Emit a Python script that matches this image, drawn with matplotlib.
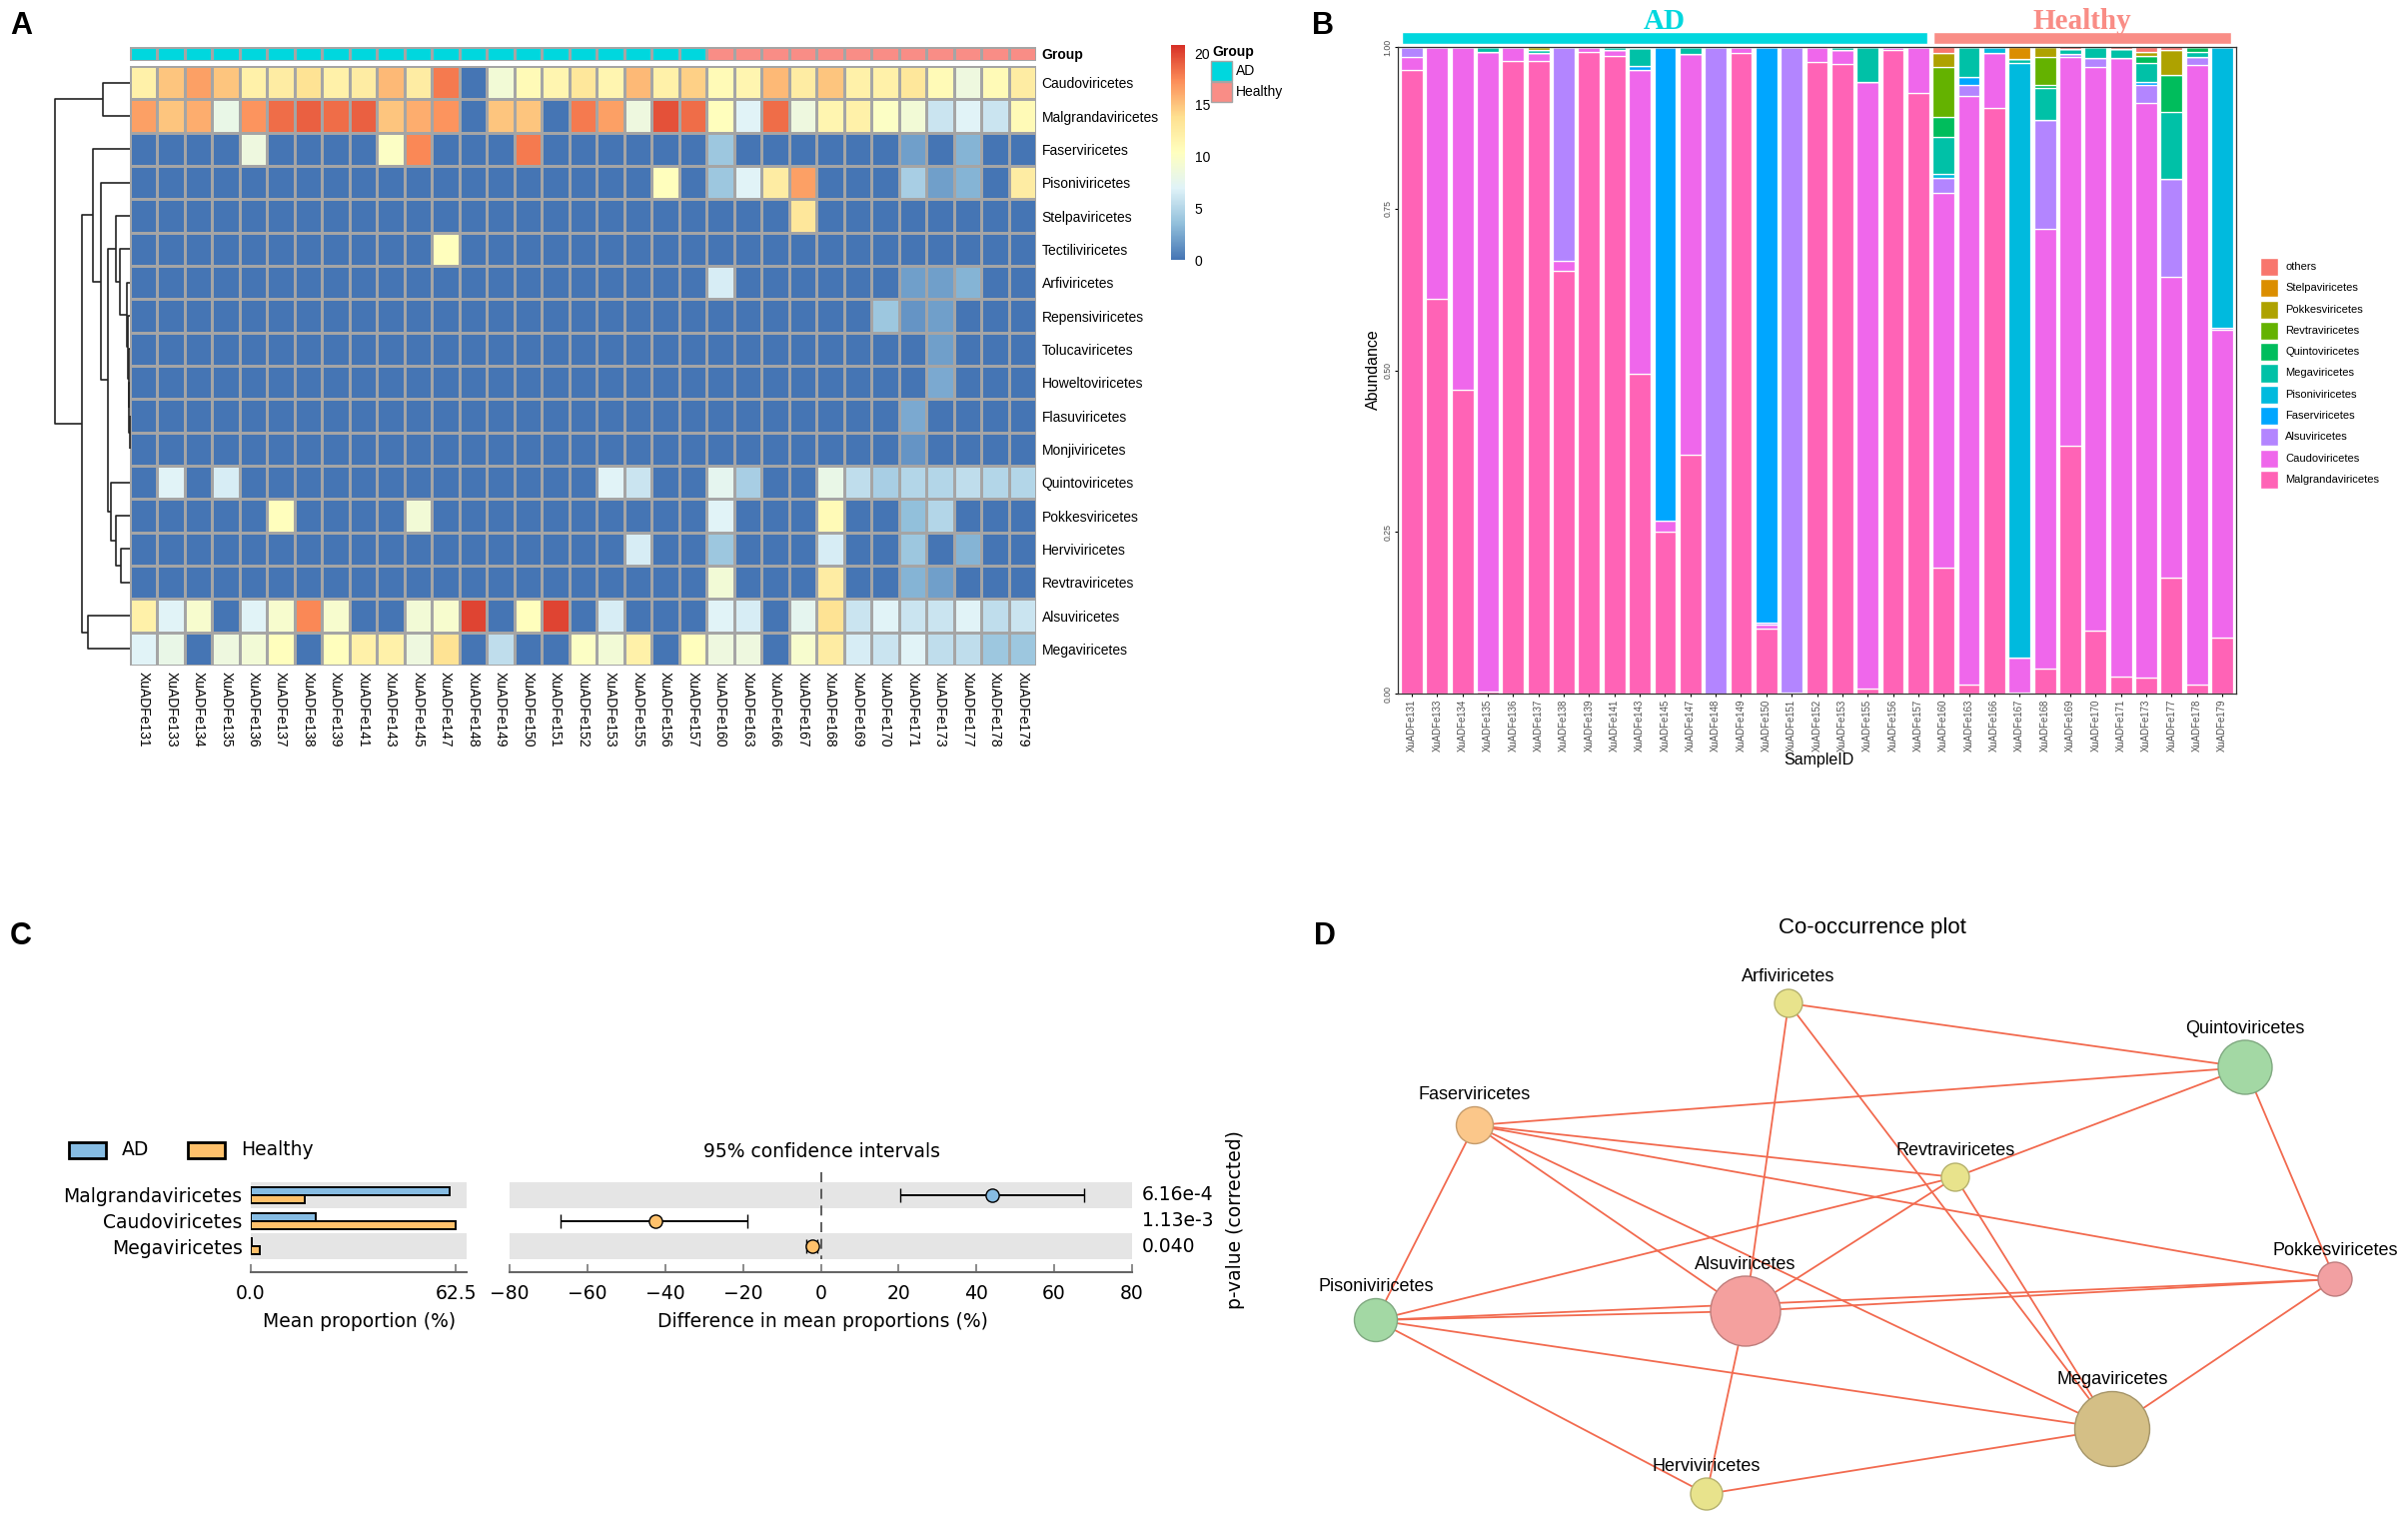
import numpy as np
import matplotlib
matplotlib.use("Agg")
import matplotlib.pyplot as plt
from matplotlib.colors import LinearSegmentedColormap, ListedColormap, Normalize, to_rgb
from matplotlib.patches import Rectangle
from matplotlib.transforms import blended_transform_factory

plt.rcParams['font.family'] = ['Liberation Sans', 'DejaVu Sans']

# ---------------- data: panel A (heatmap) ----------------
hm_rows = ["Caudoviricetes", "Malgrandaviricetes", "Faserviricetes", "Pisoniviricetes",
           "Stelpaviricetes", "Tectiliviricetes", "Arfiviricetes", "Repensiviricetes",
           "Tolucaviricetes", "Howeltoviricetes", "Flasuviricetes", "Monjiviricetes",
           "Quintoviricetes", "Pokkesviricetes", "Herviviricetes", "Revtraviricetes",
           "Alsuviricetes", "Megaviricetes"]
samples = ["XuADFe131", "XuADFe133", "XuADFe134", "XuADFe135", "XuADFe136", "XuADFe137",
           "XuADFe138", "XuADFe139", "XuADFe141", "XuADFe143", "XuADFe145", "XuADFe147",
           "XuADFe148", "XuADFe149", "XuADFe150", "XuADFe151", "XuADFe152", "XuADFe153",
           "XuADFe155", "XuADFe156", "XuADFe157", "XuADFe160", "XuADFe163", "XuADFe166",
           "XuADFe167", "XuADFe168", "XuADFe169", "XuADFe170", "XuADFe171", "XuADFe173",
           "XuADFe177", "XuADFe178", "XuADFe179"]
groups = ["AD"] * 21 + ["Healthy"] * 12

caudo_hm = [12, 15, 16.5, 15, 12, 12.5, 13.5, 12, 12.5, 15.5, 12.5, 18, 0, 9, 11, 11.5, 13, 11.5, 15.5, 12, 14.5,
            11, 11.5, 15.5, 12.5, 15, 12, 12, 13, 11, 8.5, 11, 12.5]
malg_hm = [16.5, 15, 16, 8, 17, 18.5, 19, 18.5, 19, 15, 16, 17, 0, 15, 15, 0, 18, 16.5, 8.5, 19.5, 18.5,
           10.5, 7, 18.5, 8.5, 11.5, 12, 10, 9, 6, 7, 6, 11]
faser_hm = [0, 0, 0, 0, 8.5, 0, 0, 0, 0, 10, 17.5, 0, 0, 0, 18, 0, 0, 0, 0, 0, 0,
            4, 0, 0, 0, 0, 0, 0, 2, 0, 3, 0, 0]
pisoni_hm = [0, 0, 0, 0, 0, 0, 0, 0, 0, 0, 0, 0, 0, 0, 0, 0, 0, 0, 0, 10.5, 0,
             4, 7, 12.5, 16.5, 0, 0, 0, 4.5, 2, 3, 0, 12.5]
stelpa_hm = [0] * 24 + [13] + [0] * 8
tectili_hm = [0] * 11 + [10.5] + [0] * 21
arfi_hm = [0] * 21 + [6.5, 0, 0, 0, 0, 0, 0, 2, 2, 3, 0, 0]
repensi_hm = [0] * 21 + [0, 0, 0, 0, 0, 0, 4, 1.5, 2, 0, 0, 0]
toluca_hm = [0] * 21 + [0, 0, 0, 0, 0, 0, 0, 0, 2, 0, 0, 0]
howelto_hm = [0] * 21 + [0, 0, 0, 0, 0, 0, 0, 0, 2.5, 0, 0, 0]
flasu_hm = [0] * 21 + [0, 0, 0, 0, 0, 0, 0, 2.5, 0, 0, 0, 0]
monji_hm = [0] * 21 + [0, 0, 0, 0, 0, 0, 0, 1.5, 0, 0, 0, 0]
quinto_hm = [0, 7, 0, 6.5, 0, 0, 0, 0, 0, 0, 0, 0, 0, 0, 0, 0, 0, 7, 6, 0, 0,
             7.5, 4.5, 0, 0, 8, 5.5, 4.5, 5, 5, 5.5, 5, 5]
pokkes_hm = [0, 0, 0, 0, 0, 10.5, 0, 0, 0, 0, 9, 0, 0, 0, 0, 0, 0, 0, 0, 0, 0,
             7, 0, 0, 0, 11, 0, 0, 3.5, 5, 0, 0, 0]
hervi_hm = [0, 0, 0, 0, 0, 0, 0, 0, 0, 0, 0, 0, 0, 0, 0, 0, 0, 0, 6.5, 0, 0,
            4, 0, 0, 0, 6.5, 0, 0, 4, 0, 3, 0, 0]
revtra_hm = [0] * 21 + [9, 0, 0, 0, 12.5, 0, 0, 3, 2, 0, 0, 0]
alsu_hm = [12, 7, 9.5, 0, 7, 9.5, 17.5, 9.5, 0, 0, 9, 9.5, 20, 0, 10.5, 20, 0, 6.5, 0, 0, 0,
           7, 6.5, 0, 7.5, 13.5, 6, 7, 6, 6, 7, 5.5, 6]
mega_hm = [7, 8, 0, 8.5, 9, 10.5, 0, 10.5, 12, 12, 8.5, 13.5, 0, 5.5, 0, 0, 10, 9, 12, 0, 10.5,
           8.5, 8.5, 0, 9.5, 12.5, 6.5, 6, 7, 5.5, 5.5, 4, 4]

# row dendrogram: (left, right, height) merges, leaves = heatmap row order
row_linkage = [(10, 11, 0.006), (9, 18, 0.01), (8, 19, 0.014), (7, 20, 0.03), (6, 21, 0.045),
               (5, 22, 0.14), (4, 23, 0.185), (14, 15, 0.12), (13, 25, 0.185), (12, 26, 0.26),
               (24, 27, 0.295), (3, 28, 0.39), (2, 29, 0.49), (16, 17, 0.56), (30, 31, 0.64),
               (0, 1, 0.36), (33, 32, 1.0)]

# ---------------- data: panel B (relative abundance) ----------------
b_classes = ["Malgrandaviricetes", "Caudoviricetes", "Alsuviricetes", "Faserviricetes",
             "Pisoniviricetes", "Megaviricetes", "Quintoviricetes", "Revtraviricetes",
             "Pokkesviricetes", "Stelpaviricetes", "others"]
malg_b = [0.965, 0.61, 0.47, 0.003, 0.978, 0.979, 0.654, 0.992, 0.986, 0.495, 0.25, 0.369, 0.0, 0.99,
          0.10, 0.002, 0.977, 0.973, 0.007, 0.995, 0.929,
          0.194, 0.014, 0.905, 0.002, 0.038, 0.383, 0.098, 0.027, 0.025, 0.18, 0.014, 0.086]
caudo_b = [0.02, 0.39, 0.53, 0.99, 0.022, 0.012, 0.015, 0.008, 0.01, 0.469, 0.018, 0.62, 0.0, 0.01,
           0.006, 0.0, 0.023, 0.022, 0.939, 0.005, 0.071,
           0.58, 0.91, 0.085, 0.054, 0.681, 0.602, 0.871, 0.956, 0.888, 0.464, 0.958, 0.476]
alsu_b = [0.015, 0, 0, 0, 0, 0, 0.331, 0, 0, 0, 0, 0, 1.0, 0, 0.004, 0.998, 0, 0, 0, 0, 0,
          0.024, 0.017, 0, 0, 0.168, 0.004, 0.014, 0, 0.028, 0.152, 0.012, 0.004]
faser_b = [0, 0, 0, 0, 0, 0, 0, 0, 0, 0.006, 0.732, 0, 0, 0, 0.89, 0, 0, 0, 0, 0, 0,
           0, 0.012, 0, 0, 0, 0, 0, 0, 0.005, 0, 0, 0]
pisoni_b = [0] * 21 + [0.006, 0, 0.01, 0.92, 0, 0, 0, 0, 0, 0, 0, 0.434]
mega_b = [0, 0, 0, 0.007, 0, 0.005, 0, 0, 0.004, 0.028, 0, 0.011, 0, 0, 0, 0, 0, 0.005, 0.054, 0, 0,
          0.057, 0.047, 0, 0.005, 0.05, 0.008, 0.017, 0.014, 0.03, 0.103, 0.009, 0]
quinto_b = [0] * 21 + [0.031, 0, 0, 0, 0.004, 0, 0, 0, 0.01, 0.058, 0.007, 0]
revtra_b = [0] * 21 + [0.077, 0, 0, 0, 0.044, 0, 0, 0, 0, 0, 0, 0]
pokkes_b = [0, 0, 0, 0, 0, 0.004, 0, 0, 0, 0, 0, 0, 0, 0, 0, 0, 0, 0, 0, 0, 0,
            0.022, 0, 0, 0, 0.015, 0, 0, 0, 0.006, 0.038, 0, 0]
stelpa_b = [0] * 24 + [0.019] + [0] * 8
others_b = [0] * 21 + [0.009, 0, 0, 0, 0, 0.003, 0, 0.003, 0.008, 0.005, 0, 0]

# ---------------- data: panel C (STAMP) ----------------
c_taxa = ["Malgrandaviricetes", "Caudoviricetes", "Megaviricetes"]
c_mean_ad = [60.7, 19.9, 0.4]
c_mean_healthy = [16.6, 62.5, 2.8]
c_diff = [44.0, -42.5, -2.3]
c_ci_low = [20.5, -66.8, -3.6]
c_ci_high = [67.7, -18.9, -1.0]
c_pvalue = ["6.16e-4", "1.13e-3", "0.040"]

# ---------------- data: panel D (co-occurrence network) ----------------
net_nodes = ["Arfiviricetes", "Quintoviricetes", "Faserviricetes", "Revtraviricetes",
             "Pokkesviricetes", "Pisoniviricetes", "Alsuviricetes", "Megaviricetes", "Herviviricetes"]
net_x = [500, 957, 186, 667, 1047, 87, 457, 824, 418]
net_y = [518, 454, 396, 344, 242, 201, 210, 92, 27]
net_radius = [14, 27, 18.5, 14, 17, 21.5, 35, 37.5, 16]
net_color = ["#E8E38C", "#A3D8A4", "#FBC78A", "#E8E38C", "#F2A0A2", "#A3D8A4", "#F4A09E", "#D4BF86", "#E8E38C"]
net_edges = [("Arfiviricetes", "Quintoviricetes"), ("Arfiviricetes", "Alsuviricetes"),
             ("Arfiviricetes", "Megaviricetes"), ("Quintoviricetes", "Faserviricetes"),
             ("Quintoviricetes", "Revtraviricetes"), ("Quintoviricetes", "Pokkesviricetes"),
             ("Faserviricetes", "Revtraviricetes"), ("Faserviricetes", "Pokkesviricetes"),
             ("Faserviricetes", "Alsuviricetes"), ("Faserviricetes", "Megaviricetes"),
             ("Faserviricetes", "Pisoniviricetes"), ("Revtraviricetes", "Pisoniviricetes"),
             ("Revtraviricetes", "Alsuviricetes"), ("Revtraviricetes", "Megaviricetes"),
             ("Pisoniviricetes", "Alsuviricetes"), ("Pisoniviricetes", "Pokkesviricetes"),
             ("Alsuviricetes", "Pokkesviricetes"), ("Pisoniviricetes", "Megaviricetes"),
             ("Pisoniviricetes", "Herviviricetes"), ("Alsuviricetes", "Herviviricetes"),
             ("Herviviricetes", "Megaviricetes"), ("Pokkesviricetes", "Megaviricetes")]

# ---------------- figure ----------------
W, H = 2410, 1522
fig = plt.figure(figsize=(W / 100, H / 100), dpi=100)


def px_box(x0, y0, x1, y1):
    """pixel box (top-left origin) -> figure fraction rect"""
    return [x0 / W, 1 - y1 / H, (x1 - x0) / W, (y1 - y0) / H]


def ftxt(x, y, s, **kw):
    fig.text(x / W, 1 - y / H, s, **kw)


AD_COL = "#00D7DE"
HE_COL = "#F98D86"

# ======== Panel A ========
heat = np.array([caudo_hm, malg_hm, faser_hm, pisoni_hm, stelpa_hm, tectili_hm, arfi_hm, repensi_hm,
                 toluca_hm, howelto_hm, flasu_hm, monji_hm, quinto_hm, pokkes_hm, hervi_hm, revtra_hm,
                 alsu_hm, mega_hm])
n_rows, n_cols = heat.shape
cmap_hm = LinearSegmentedColormap.from_list(
    "rdylbu", ["#4575B4", "#91BFDB", "#E0F3F8", "#FFFFBF", "#FEE090", "#FC8D59", "#D73027"])
norm_hm = Normalize(0, 20.8)

axh = fig.add_axes(px_box(130, 66, 1037, 666))
axh.pcolormesh(np.arange(n_cols + 1), np.arange(n_rows + 1), heat, cmap=cmap_hm, norm=norm_hm,
               edgecolors="#A5A5A5", linewidth=1.0)
axh.set_xlim(0, n_cols)
axh.set_ylim(n_rows, 0)
axh.set_xticks(np.arange(n_cols) + 0.5)
axh.set_xticklabels(samples, rotation=270, fontsize=10, va="top", ha="center")
axh.set_yticks(np.arange(n_rows) + 0.5)
axh.set_yticklabels(hm_rows, fontsize=10)
axh.yaxis.tick_right()
axh.tick_params(length=0, pad=4)
for s in axh.spines.values():
    s.set_visible(False)

# group annotation bar
axg = fig.add_axes(px_box(130, 47, 1037, 61))
grp_code = np.array([[0 if g == "AD" else 1 for g in groups]])
axg.pcolormesh(np.arange(n_cols + 1), [0, 1], grp_code, cmap=ListedColormap([AD_COL, HE_COL]),
               vmin=0, vmax=1, edgecolors="#A5A5A5", linewidth=1.0)
axg.set_xlim(0, n_cols)
axg.set_xticks([])
axg.set_yticks([0.5])
axg.set_yticklabels(["Group"], fontsize=10, fontweight="bold")
axg.yaxis.tick_right()
axg.tick_params(length=0, pad=4)
for s in axg.spines.values():
    s.set_visible(False)

# dendrogram
axd = fig.add_axes(px_box(55, 66, 130, 666))
pos = {i: i + 0.5 for i in range(n_rows)}
hgt = {i: 0.0 for i in range(n_rows)}
for k, (a, b, h) in enumerate(row_linkage):
    node = n_rows + k
    axd.plot([hgt[a], h, h, hgt[b]], [pos[a], pos[a], pos[b], pos[b]], color="#222222", lw=1.2,
             solid_capstyle="butt", clip_on=False)
    pos[node] = (pos[a] + pos[b]) / 2
    hgt[node] = h
axd.set_xlim(1.0, 0)
axd.set_ylim(n_rows, 0)
axd.axis("off")

# colour legend
cax = fig.add_axes(px_box(1172, 45, 1186, 260))
cb = fig.colorbar(plt.cm.ScalarMappable(norm=norm_hm, cmap=cmap_hm), cax=cax)
cb.outline.set_visible(False)
cb.set_ticks([0, 5, 10, 15, 20])
cax.tick_params(length=0, labelsize=10, pad=7)

ftxt(1213, 52, "Group", fontsize=10, fontweight="bold", va="center")
for i, (lab, col) in enumerate([("AD", AD_COL), ("Healthy", HE_COL)]):
    fig.patches.append(Rectangle((1212 / W, 1 - (81 + 21 * i) / H), 21 / W, 20 / H, transform=fig.transFigure,
                                 facecolor=col, edgecolor="#A5A5A5", lw=1))
    ftxt(1237, 71 + 21 * i, lab, fontsize=10, va="center")

# ======== Panel B ========
b_series = [malg_b, caudo_b, alsu_b, faser_b, pisoni_b, mega_b, quinto_b, revtra_b, pokkes_b, stelpa_b, others_b]
b_colors = ["#FF63B6", "#EF67EB", "#B385FF", "#00A6FF", "#00BADE", "#00C1A7", "#00BD5C", "#64B200",
            "#AEA200", "#DB8E00", "#F8766D"]
xb = np.arange(len(samples))
axb = fig.add_axes(px_box(1399, 47, 2238, 694))
bottom = np.zeros(len(samples))
for vals, col in zip(b_series, b_colors):
    vals = np.array(vals)
    axb.bar(xb, vals, width=0.86, bottom=bottom, color=col, edgecolor="white", linewidth=0.9)
    bottom += vals
axb.set_xlim(-0.55, len(samples) - 0.45)
axb.set_ylim(0, 1)
axb.set_yticks([0, 0.25, 0.5, 0.75, 1.0])
axb.set_yticklabels(["0.00", "0.25", "0.50", "0.75", "1.00"], rotation=90, va="center", fontsize=6.3,
                    color="#4D4D4D")
axb.set_xticks(xb)
axb.set_xticklabels(samples, rotation=90, fontsize=6.9, color="#4D4D4D")
axb.tick_params(length=2.5, width=0.8, pad=1.5)
for s in axb.spines.values():
    s.set_linewidth(0.9)
    s.set_color("#333333")
ftxt(1374, 370, "Abundance", fontsize=11.5, rotation=90, ha="center", va="center")
ftxt(1820, 760, "SampleID", fontsize=11.5, ha="center", va="center")

# group bars on top
axgb = fig.add_axes(px_box(1399, 32, 2238, 44))
axgb.set_xlim(axb.get_xlim())
axgb.set_ylim(0, 1)
axgb.axis("off")
for lab, col in [("AD", AD_COL), ("Healthy", HE_COL)]:
    idx = [i for i, g in enumerate(groups) if g == lab]
    x0, x1 = idx[0] - 0.4, idx[-1] + 0.35
    axgb.add_patch(Rectangle((x0, 0), x1 - x0, 1, facecolor=col, edgecolor="white", lw=1, clip_on=False))
    axgb.text((x0 + x1) / 2, 1.85, lab, color=col, fontsize=21, fontweight="bold", ha="center", va="center",
              family=["Liberation Serif", "DejaVu Serif"])

# legend
for i, (lab, col) in enumerate(zip(b_classes[::-1], b_colors[::-1])):
    yc = 267 + 21.3 * i
    fig.patches.append(Rectangle((2262 / W, 1 - (yc + 9) / H), 18 / W, 18 / H, transform=fig.transFigure,
                                 facecolor=col, edgecolor="white", lw=1))
    ftxt(2287, yc, lab, fontsize=8, va="center")

# ======== Panel C ========
C_AD = "#86BCE3"
C_HE = "#FFC16B"
cfont = ["DejaVu Sans"]
rows_c = np.arange(len(c_taxa))

axL = fig.add_axes(px_box(251, 1183, 467, 1273))
for r in rows_c[::2]:
    axL.axhspan(r - 0.5, r + 0.5, color="#E5E5E5", lw=0, zorder=0)
axL.barh(rows_c - 0.155, c_mean_ad, height=0.31, color=C_AD, edgecolor="black", lw=1.4, zorder=2)
axL.barh(rows_c + 0.155, c_mean_healthy, height=0.31, color=C_HE, edgecolor="black", lw=1.4, zorder=2)
axL.set_xlim(0, 65.8)
axL.set_ylim(3.0, -0.5)
axL.set_yticks(rows_c)
axL.set_yticklabels(c_taxa, fontsize=13.5, family=cfont)
axL.set_xticks([0, 62.5])
axL.set_xticklabels(["0.0", "62.5"], fontsize=13.5, family=cfont)

axR = fig.add_axes(px_box(510, 1183, 1133, 1273))
for r in rows_c[::2]:
    axR.axhspan(r - 0.5, r + 0.5, color="#E5E5E5", lw=0, zorder=0)
axR.plot([0, 0], [-0.9, 2.5], ls=(0, (6, 4)), color="#444444", lw=1.2, clip_on=False, zorder=1)
for r in rows_c:
    col = C_AD if c_diff[r] > 0 else C_HE
    axR.errorbar(c_diff[r], r, xerr=[[c_diff[r] - c_ci_low[r]], [c_ci_high[r] - c_diff[r]]], fmt="o",
                 color="black", ecolor="black", elinewidth=1.4, capsize=4.7, capthick=1.4,
                 markerfacecolor=col, markeredgecolor="black", markersize=9.5, markeredgewidth=1.0, zorder=3)
axR.set_xlim(-80, 80)
axR.set_ylim(3.0, -0.5)
axR.set_yticks([])
axR.set_xticks(np.arange(-80, 81, 20))
axR.set_xticklabels([str(v).replace("-", "\u2212") for v in range(-80, 81, 20)], fontsize=13.5, family=cfont)

for ax in (axL, axR):
    for k in ("top", "right", "left"):
        ax.spines[k].set_visible(False)
    ax.spines["bottom"].set_color("#666666")
    ax.spines["bottom"].set_linewidth(1.5)
    ax.tick_params(axis="x", direction="in", length=6, width=1.2, color="#777777", pad=9)
    ax.tick_params(axis="y", length=0, pad=6)
    ax.set_facecolor("none")

tr = blended_transform_factory(axR.transAxes, axR.transData)
for r in rows_c:
    axR.text(1.016, r, c_pvalue[r], transform=tr, fontsize=13.5, va="center", ha="left", family=cfont)
ftxt(1236, 1221, "p-value (corrected)", rotation=90, fontsize=13.5, ha="center", va="center", family=cfont)
ftxt(822, 1152, "95% confidence intervals", fontsize=13.5, ha="center", va="center", family=cfont)
ftxt(360, 1323, "Mean proportion (%)", fontsize=13.5, ha="center", va="center", family=cfont)
ftxt(823, 1323, "Difference in mean proportions (%)", fontsize=13.5, ha="center", va="center", family=cfont)
for x0, lab, col in [(69, "AD", C_AD), (188, "Healthy", C_HE)]:
    fig.patches.append(Rectangle((x0 / W, 1 - 1159 / H), 37 / W, 16 / H, transform=fig.transFigure,
                                 facecolor=col, edgecolor="black", lw=2))
    ftxt(x0 + 53, 1151, lab, fontsize=13.5, va="center", family=cfont)

# ======== Panel D ========
axn = fig.add_axes(px_box(1290, 940, 2410, 1522))
axn.set_xlim(0, 1120)
axn.set_ylim(0, 582)
axn.axis("off")
idx_of = {n: i for i, n in enumerate(net_nodes)}
for a, b in net_edges:
    i, j = idx_of[a], idx_of[b]
    axn.plot([net_x[i], net_x[j]], [net_y[i], net_y[j]], color="#F26A4F", lw=1.3, zorder=1)
edge_cols = [tuple(0.78 * c for c in to_rgb(col)) for col in net_color]
axn.scatter(net_x, net_y, s=[(1.44 * r) ** 2 for r in net_radius], c=net_color, edgecolors=edge_cols,
            linewidths=1.0, zorder=2, clip_on=False)
for n, x, y, r in zip(net_nodes, net_x, net_y, net_radius):
    axn.text(x, y + r + 12, n, fontsize=13, ha="center", va="center", zorder=3)
ftxt(1874, 928, "Co-occurrence plot", fontsize=16, ha="center", va="center")

# panel letters
for lab, x, y in [("A", 10, 26), ("B", 1313, 26), ("C", 10, 937), ("D", 1315, 937)]:
    ftxt(x, y, lab, fontsize=22, fontweight="bold", va="center", ha="left")

fig.savefig("out.png", dpi=100)
